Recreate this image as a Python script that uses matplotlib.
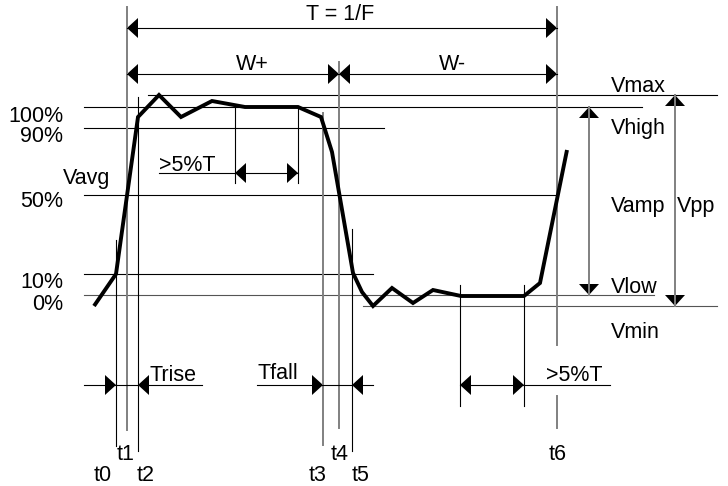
import matplotlib.pyplot as plt
from matplotlib.patches import Polygon

# diagram works in the picture's own pixel space (y grows downward)
W, H = 728, 486

# pulse waveform
wave_x = [94, 116, 138, 159, 181, 212, 245, 298, 321, 332, 353, 362, 373, 392, 413, 433, 461, 524, 540, 567]
wave_y = [306, 274, 117, 95, 117, 101, 107, 107, 117, 152, 273, 292, 306, 288, 303, 290, 296, 296, 283, 150]

# horizontal level lines
level_y = [95, 107, 128, 195, 274, 295, 306]
level_x0 = [148, 84, 84, 84, 84, 84, 363]
level_x1 = [717, 642, 384, 557, 373, 654, 717]
level_col = ['k', 'k', 'k', 'k', 'k', '#555555', '#555555']

# left level labels (right aligned)
pct_labels = ['100%', '90%', '50%', '10%', '0%']
pct_y = [122, 142, 207, 288, 310]

# right labels
right_labels = ['Vmax', 'Vhigh', 'Vamp', 'Vlow', 'Vmin']
right_y = [92, 134, 212, 293, 338]

# time markers
t_labels = ['t0', 't1', 't2', 't3', 't4', 't5', 't6']
t_x = [116, 127, 138, 323, 339, 352, 557]
t_top = [240, 7, 97, 113, 62, 229, 7]
t_bot = [446, 430, 451, 445, 428, 451, 428]
t_lab_x = [103, 126, 146, 318, 340, 361, 558]
t_lab_y = [481, 460, 481, 481, 460, 481, 460]
t_col = ['k', 'grey', 'k', 'grey', 'grey', 'k', 'grey']

# short extra verticals for the >5%T windows
win_x = [235, 298, 460, 524]
win_top = [107, 107, 285, 285]
win_bot = [183, 183, 406, 406]

# horizontal dimension lines: y, x0, x1, arrow tips (x, direction)
dim_y = [28, 74, 74, 173, 173, 385, 385, 385]
dim_x0 = [127, 127, 339, 159, 235, 84, 257, 460]
dim_x1 = [557, 339, 557, 235, 298, 202, 373, 610]
dim_tips = [[(127, -1), (557, 1)], [(127, -1), (339, 1)], [(339, -1), (557, 1)], [],
            [(235, -1), (298, 1)], [(116, 1), (138, -1)], [(323, 1), (352, -1)],
            [(460, -1), (524, 1)]]

# vertical dimension lines (Vamp, Vpp)
vdim_x = [589, 675]
vdim_y0 = [107, 95]
vdim_y1 = [295, 306]

fig = plt.figure(figsize=(W / 100, H / 100), dpi=100)
ax = fig.add_axes([0, 0, 1, 1])
ax.set_xlim(0, W)
ax.set_ylim(H, 0)
ax.axis('off')

font = dict(family=['Liberation Sans', 'DejaVu Sans'], fontsize=15.5)
thin = 0.8
grey_lw = 1.4
AL, AW = 11, 10  # arrowhead length, half width


def head_h(x, y, d):
    tri = [(x, y), (x - d * AL, y - AW), (x - d * AL, y + AW)]
    ax.add_patch(Polygon(tri, closed=True, color='k', lw=0))


def head_v(x, y, d):
    tri = [(x, y), (x - AW, y - d * AL), (x + AW, y - d * AL)]
    ax.add_patch(Polygon(tri, closed=True, color='k', lw=0))


# level lines
for y, x0, x1, c in zip(level_y, level_x0, level_x1, level_col):
    ax.plot([x0, x1], [y, y], color=c, lw=thin)

# time marker lines
for lab, x, y0, y1, lx, ly, c in zip(t_labels, t_x, t_top, t_bot, t_lab_x, t_lab_y, t_col):
    lw = grey_lw if c == 'grey' else thin
    if lab == 't6':
        ax.plot([x, x], [y0, 345], color=c, lw=lw)
        ax.plot([x, x], [396, y1], color=c, lw=lw)
    else:
        ax.plot([x, x], [y0, y1], color=c, lw=lw)
    ax.text(lx, ly, lab, ha='center', va='baseline', **font)

for x, y0, y1 in zip(win_x, win_top, win_bot):
    ax.plot([x, x], [y0, y1], color='k', lw=thin)

# horizontal dimensions
for y, x0, x1, tips in zip(dim_y, dim_x0, dim_x1, dim_tips):
    ax.plot([x0, x1], [y, y], color='k', lw=thin)
    for tx, d in tips:
        head_h(tx, y, d)

# vertical dimensions
for x, y0, y1 in zip(vdim_x, vdim_y0, vdim_y1):
    ax.plot([x, x], [y0, y1], color='grey', lw=grey_lw)
    head_v(x, y0, -1)
    head_v(x, y1, 1)

# waveform
ax.plot(wave_x, wave_y, color='k', lw=2.8, solid_joinstyle='miter', solid_capstyle='butt')

# labels
for lab, y in zip(pct_labels, pct_y):
    ax.text(63, y, lab, ha='right', va='baseline', **font)
ax.text(63, 184, 'Vavg', ha='left', va='baseline', **font)
for lab, y in zip(right_labels, right_y):
    ax.text(611, y, lab, ha='left', va='baseline', **font)
ax.text(677, 212, 'Vpp', ha='left', va='baseline', **font)
ax.text(340, 20, 'T = 1/F', ha='center', va='baseline', **font)
ax.text(252, 70, 'W+', ha='center', va='baseline', **font)
ax.text(452, 70, 'W-', ha='center', va='baseline', **font)
ax.text(159, 171, '>5%T', ha='left', va='baseline', **font)
ax.text(149, 381, 'Trise', ha='left', va='baseline', **font)
ax.text(257, 379, 'Tfall', ha='left', va='baseline', **font)
ax.text(546, 381, '>5%T', ha='left', va='baseline', **font)

fig.savefig('out.png', dpi=100)
